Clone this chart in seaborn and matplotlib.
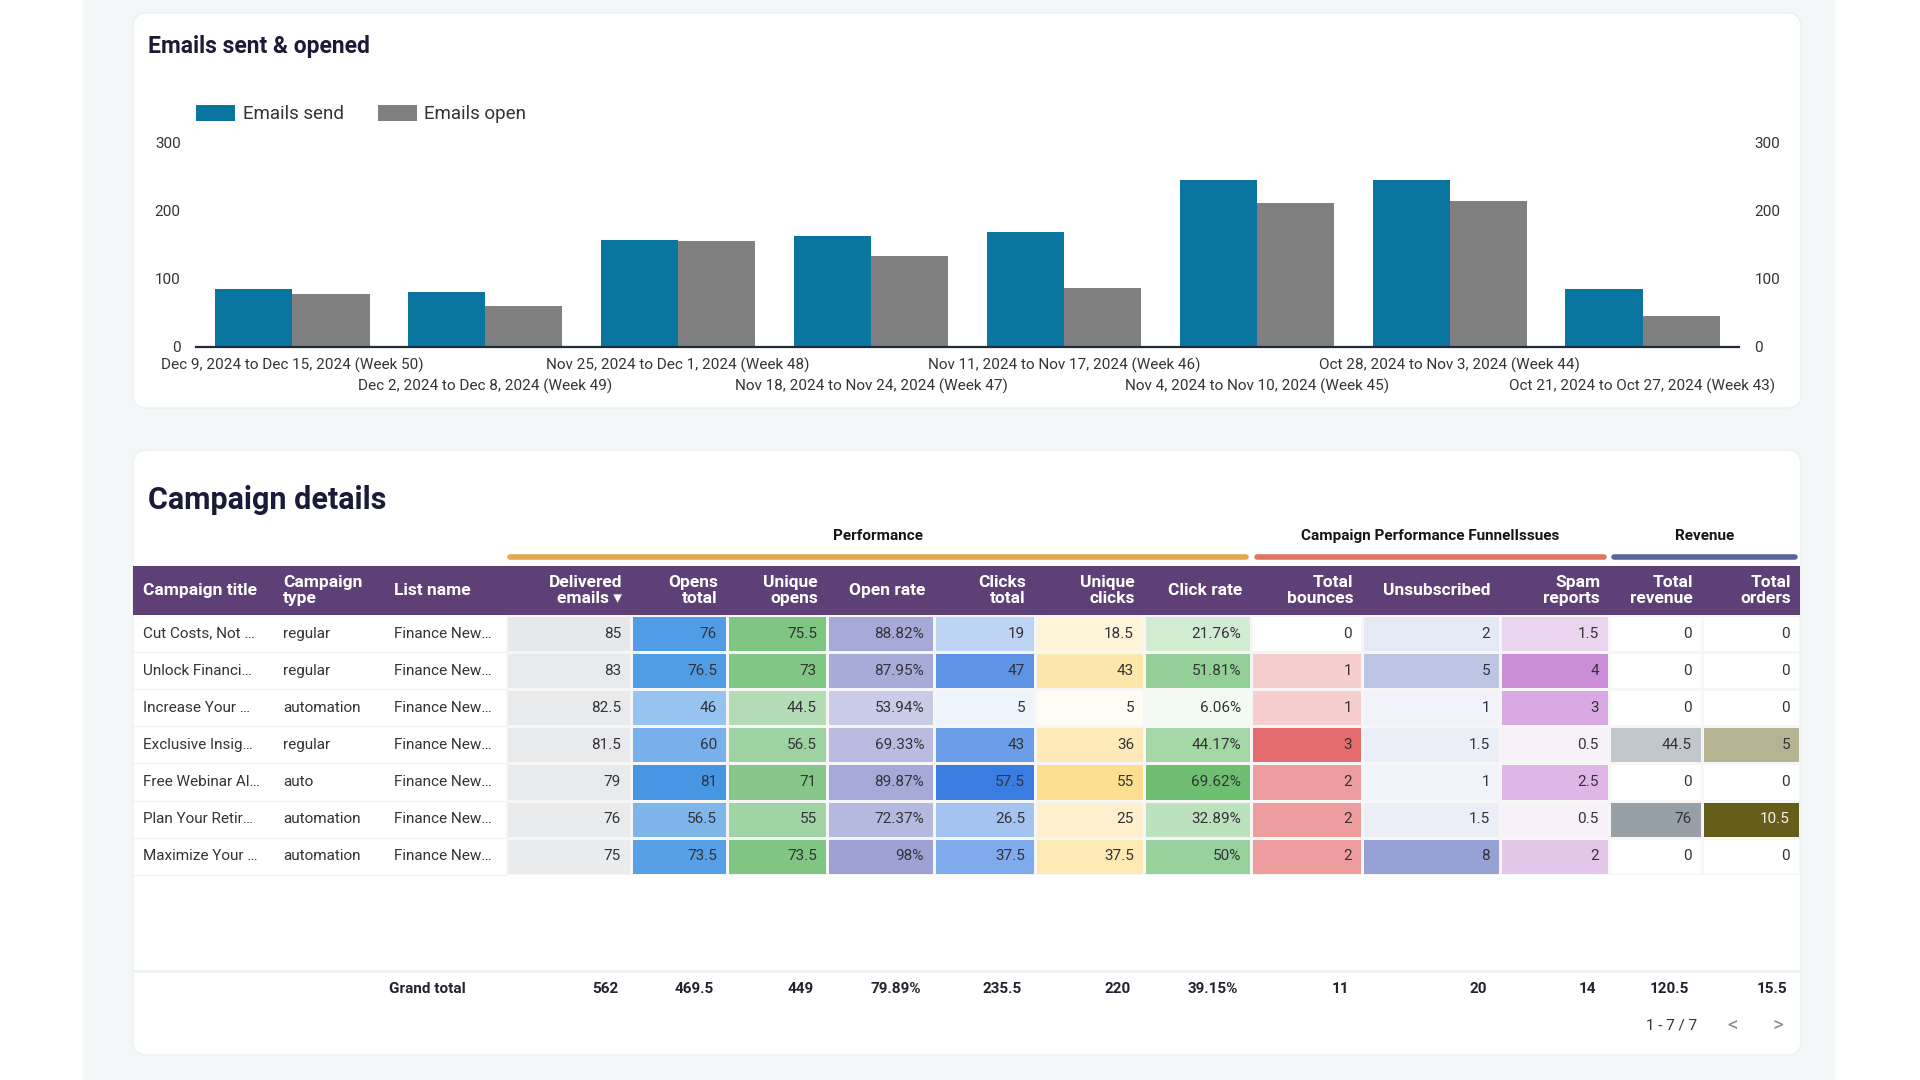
import numpy as np
import pandas as pd
import matplotlib.pyplot as plt
import seaborn as sns
from matplotlib.colors import LinearSegmentedColormap, Normalize
from matplotlib.patches import FancyBboxPatch, Rectangle

sns.set_theme(style='white')
plt.rcParams['font.family'] = ['Roboto', 'DejaVu Sans']

# Weekly emails
weeks = [
    'Dec 9, 2024 to Dec 15, 2024 (Week 50)',
    'Dec 2, 2024 to Dec 8, 2024 (Week 49)',
    'Nov 25, 2024 to Dec 1, 2024 (Week 48)',
    'Nov 18, 2024 to Nov 24, 2024 (Week 47)',
    'Nov 11, 2024 to Nov 17, 2024 (Week 46)',
    'Nov 4, 2024 to Nov 10, 2024 (Week 45)',
    'Oct 28, 2024 to Nov 3, 2024 (Week 44)',
    'Oct 21, 2024 to Oct 27, 2024 (Week 43)',
]
emails_send = [85, 81, 157, 163, 169, 245, 245, 85]
emails_open = [78, 60, 155, 133, 87, 211, 214, 45]

# Campaign table
titles = ['Cut Costs, Not …', 'Unlock Financi…', 'Increase Your …', 'Exclusive Insig…',
          'Free Webinar Al…', 'Plan Your Retir…', 'Maximize Your …']
types = ['regular', 'regular', 'automation', 'regular', 'auto', 'automation', 'automation']
list_names = ['Finance New…'] * 7
delivered = [85, 83, 82.5, 81.5, 79, 76, 75]
opens_total = [76, 76.5, 46, 60, 81, 56.5, 73.5]
unique_opens = [75.5, 73, 44.5, 56.5, 71, 55, 73.5]
open_rate = [88.82, 87.95, 53.94, 69.33, 89.87, 72.37, 98]
clicks_total = [19, 47, 5, 43, 57.5, 26.5, 37.5]
unique_clicks = [18.5, 43, 5, 36, 55, 25, 37.5]
click_rate = [21.76, 51.81, 6.06, 44.17, 69.62, 32.89, 50]
bounces = [0, 1, 1, 3, 2, 2, 2]
unsubscribed = [2, 5, 1, 1.5, 1, 1.5, 8]
spam = [1.5, 4, 3, 0.5, 2.5, 0.5, 2]
revenue = [0, 0, 0, 44.5, 0, 76, 0]
orders = [0, 0, 0, 5, 0, 10.5, 0]

W, H = 1920, 1080


def fr(x0, y0, x1, y1):
    return [x0 / W, 1 - y1 / H, (x1 - x0) / W, (y1 - y0) / H]


fig = plt.figure(figsize=(19.2, 10.8), dpi=100, facecolor='white')
bg = fig.add_axes([0, 0, 1, 1])
bg.set_xlim(0, W)
bg.set_ylim(H, 0)
bg.axis('off')
bg.set_zorder(-1)

TXT = '#333338'
DARK = '#1b1b38'

# page panel and cards
bg.add_patch(Rectangle((83, 0), 1752, 1080, color='#f4f7f8', lw=0))
for y0, h in [(13, 395), (450, 605)]:
    bg.add_patch(FancyBboxPatch((133, y0), 1668, h, boxstyle='round,pad=0,rounding_size=14',
                                fc='white', ec='#edf0f2', lw=1))

# ---------------- bar chart ----------------
bg.text(148, 47, 'Emails sent & opened', fontsize=16.5, weight='bold', color=DARK, va='center')

df_bar = pd.DataFrame({
    'week': weeks * 2,
    'count': emails_send + emails_open,
    'series': ['Emails send'] * len(weeks) + ['Emails open'] * len(weeks),
})
ax = fig.add_axes(fr(196, 142, 1739, 347))
sns.barplot(data=df_bar, x='week', y='count', hue='series', palette=['#0a76a0', '#808080'],
            saturation=1, linewidth=0, ax=ax)
ax.set_ylim(0, 300)
ax.set_xlim(-0.5, len(weeks) - 0.5)
ax.set_xlabel('')
ax.set_ylabel('')
ax.set_yticks([0, 100, 200, 300])
# staggered week labels: even weeks on the first row, odd weeks on the second
ax.set_xticks(range(0, len(weeks), 2))
ax.set_xticklabels(weeks[0::2], fontsize=11, color=TXT)
ax.set_xticks(range(1, len(weeks), 2), minor=True)
ax.set_xticklabels(weeks[1::2], minor=True, fontsize=11, color=TXT)
ax.tick_params(axis='x', which='major', length=0, pad=7.5)
ax.tick_params(axis='x', which='minor', length=0, pad=22.5)
ax.tick_params(axis='y', length=0, pad=11, labelsize=11, labelcolor=TXT)
for s in ['top', 'right', 'left']:
    ax.spines[s].set_visible(False)
ax.spines['bottom'].set_color('#1f2a3c')
ax.spines['bottom'].set_linewidth(1.6)
ax.patch.set_alpha(0)

sns.move_legend(ax, 'center left', bbox_to_anchor=(196 / W, 1 - 114 / H),
                bbox_transform=fig.transFigure, ncol=2, title=None, frameon=False,
                fontsize=13.5, handlelength=2.1, handleheight=1.0, handletextpad=0.4,
                columnspacing=1.8, borderpad=0, borderaxespad=0)
for t in ax.get_legend().get_texts():
    t.set_color(TXT)

ax2 = ax.twinx()
ax2.set_ylim(0, 300)
ax2.set_yticks([0, 100, 200, 300])
ax2.tick_params(axis='y', length=0, pad=11, labelsize=11, labelcolor=TXT)
for s in ax2.spines.values():
    s.set_visible(False)

# ---------------- campaign table ----------------
bg.text(148, 500, 'Campaign details', fontsize=22, weight='bold', color=DARK, va='center')

edges = [133, 273, 384, 506, 631, 727, 827, 934, 1035, 1144, 1251, 1362, 1500, 1609, 1702, 1800]
head_top, head_bot = 566, 615
row_h = 37.1
n_rows = len(titles)
body_bot = head_bot + n_rows * row_h

# column groups
for label, x0, x1, col in [('Performance', 507, 1249, '#e3a74f'),
                           ('Campaign Performance FunnelIssues', 1254, 1607, '#e07563'),
                           ('Revenue', 1611, 1798, '#5c6399')]:
    bg.plot([x0 + 3, x1 - 3], [557, 557], color=col, lw=4, solid_capstyle='round')
    bg.text((x0 + x1) / 2, 536, label, fontsize=11, weight='bold', color='#151515',
            ha='center', va='center')

bg.add_patch(Rectangle((edges[0], head_top), edges[-1] - edges[0], head_bot - head_top,
                       color='#5f4076', lw=0))
hy = (head_top + head_bot) / 2
for i, lab in enumerate(['Campaign title', 'Campaign\ntype', 'List name']):
    bg.text(edges[i] + 10, hy, lab, fontsize=12.5, weight='bold', color='white',
            ha='left', va='center', linespacing=1.1)

num_cols = [
    (delivered, '#e6e8ea', 'Delivered\nemails ▾', ''),
    (opens_total, '#4696e4', 'Opens\ntotal', ''),
    (unique_opens, '#7ec482', 'Unique\nopens', ''),
    (open_rate, '#9da1d4', 'Open rate', '%'),
    (clicks_total, '#3a7ce0', 'Clicks\ntotal', ''),
    (unique_clicks, '#fddf92', 'Unique\nclicks', ''),
    (click_rate, '#6fbf73', 'Click rate', '%'),
    (bounces, '#e46c6c', 'Total\nbounces', ''),
    (unsubscribed, '#96a2d6', 'Unsubscribed', ''),
    (spam, '#cb8dd8', 'Spam\nreports', ''),
    (revenue, '#97a0a6', 'Total\nrevenue', ''),
    (orders, '#645e1a', 'Total\norders', ''),
]

for j, (vals, col, lab, suffix) in enumerate(num_cols):
    x0, x1 = edges[3 + j], edges[4 + j]
    bg.text(x1 - 9, hy, lab, fontsize=12.5, weight='bold', color='white',
            ha='right', va='center', multialignment='right', linespacing=1.1)
    cmap = LinearSegmentedColormap.from_list(f'c{j}', ['#ffffff', col])
    vmax = max(vals) if max(vals) > 0 else 1
    cax = fig.add_axes(fr(x0, head_bot, x1, body_bot))
    sns.heatmap(np.array(vals).reshape(-1, 1), ax=cax, cmap=cmap, vmin=0, vmax=vmax,
                cbar=False, linewidths=0.8, linecolor='#f6f6f6',
                xticklabels=False, yticklabels=False)
    norm = Normalize(0, vmax)
    for i, v in enumerate(vals):
        r, g, b, _ = cmap(norm(v))
        tc = '#f4f2e4' if 0.299 * r + 0.587 * g + 0.114 * b < 0.45 else TXT
        cax.text(1 - 10 / (x1 - x0), i + 0.5, f'{v:g}{suffix}', fontsize=11, color=tc,
                 ha='right', va='center')

for i in range(n_rows):
    yc = head_bot + (i + 0.5) * row_h
    for k, txt in enumerate([titles[i], types[i], list_names[i]]):
        bg.text(edges[k] + 10, yc, txt, fontsize=11, color=TXT, ha='left', va='center')
    bg.plot([edges[0], edges[3]], [head_bot + (i + 1) * row_h] * 2, color='#f0f0f0', lw=0.8)

# grand total row
bg.plot([edges[0], edges[-1]], [971, 971], color='#eef0f2', lw=2)
gy = 989
bg.text(389, gy, 'Grand total', fontsize=11, weight='bold', color='#222230', ha='left', va='center')
totals = [sum(c[0]) for c in num_cols]
totals[3] = sum(unique_opens) / sum(delivered) * 100
totals[6] = sum(unique_clicks) / sum(delivered) * 100
for j, (t, c) in enumerate(zip(totals, num_cols)):
    s = f'{t:.2f}%' if c[3] == '%' else f'{t:g}'
    bg.text(edges[4 + j] - 13, gy, s, fontsize=11, weight='bold', color='#222230',
            ha='right', va='center')

bg.text(1697, 1025, '1 - 7 / 7', fontsize=11, color=TXT, ha='right', va='center')
bg.text(1733, 1026, '<', fontsize=15, color='#8a8a8a', ha='center', va='center')
bg.text(1778, 1026, '>', fontsize=15, color='#8a8a8a', ha='center', va='center')

fig.savefig('out.png', dpi=100)
